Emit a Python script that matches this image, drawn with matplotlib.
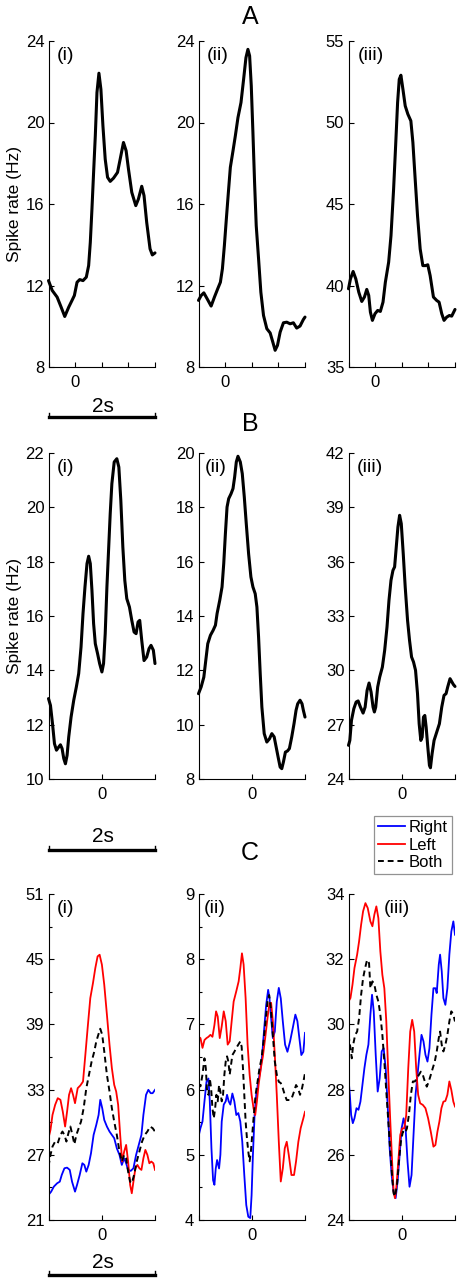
import matplotlib
matplotlib.use('Agg')
import matplotlib.pyplot as plt
from matplotlib.lines import Line2D

plt.rcParams['font.family'] = ['Liberation Sans', 'DejaVu Sans']

W, H = 458, 1280
fig = plt.figure(figsize=(W / 100, H / 100), dpi=100)
fig.patch.set_facecolor('white')

# ---------------- data (time in s, rate in Hz) ----------------
# Row A
a1_t = [-0.5, -0.431, -0.338, -0.263, -0.195, -0.12, -0.058, -0.014, 0.036, 0.086, 0.148, 0.21, 0.254,
        0.285, 0.316, 0.347, 0.379, 0.41, 0.447, 0.484, 0.522, 0.565, 0.609, 0.659, 0.721, 0.796, 0.846,
        0.908, 0.958, 1.002, 1.064, 1.139, 1.188, 1.251, 1.294, 1.344, 1.407, 1.45, 1.5]
a1_y = [12.24, 11.76, 11.43, 10.94, 10.48, 10.94, 11.27, 11.51, 12.16, 12.29, 12.24, 12.41, 12.98,
        14.12, 15.76, 17.55, 19.35, 21.47, 22.42, 21.63, 19.84, 18.20, 17.31, 17.11, 17.27, 17.55, 18.20,
        19.02, 18.61, 17.71, 16.57, 15.92, 16.24, 16.87, 16.41, 15.10, 13.80, 13.50, 13.60]

a2_t = [-0.5, -0.45, -0.4, -0.338, -0.263, -0.201, -0.139, -0.089, -0.051, -0.014, 0.023, 0.061, 0.098,
        0.148, 0.192, 0.241, 0.298, 0.347, 0.391, 0.428, 0.46, 0.491, 0.522, 0.553, 0.584, 0.628, 0.671,
        0.721, 0.783, 0.846, 0.896, 0.939, 0.983, 1.033, 1.095, 1.157, 1.22, 1.282, 1.344, 1.407, 1.469, 1.5]
a2_y = [11.27, 11.51, 11.64, 11.35, 10.99, 11.43, 11.84, 12.16, 12.82, 13.96, 15.27, 16.57, 17.80,
        18.61, 19.35, 20.24, 20.98, 22.12, 23.18, 23.59, 23.27, 21.80, 19.51, 17.06, 14.94, 13.31, 11.67,
        10.53, 9.88, 9.67, 9.22, 8.82, 9.06, 9.71, 10.17, 10.20, 10.12, 10.17, 9.91, 10.01, 10.33, 10.45]

a3_t = [-0.5, -0.463, -0.413, -0.363, -0.307, -0.251, -0.201, -0.157, -0.12, -0.089, -0.051, -0.002,
        0.048, 0.098, 0.148, 0.192, 0.254, 0.298, 0.347, 0.385, 0.422, 0.453, 0.484, 0.522, 0.565, 0.615,
        0.671, 0.709, 0.752, 0.796, 0.846, 0.896, 0.945, 0.989, 1.033, 1.095, 1.157, 1.201, 1.251, 1.294,
        1.344, 1.394, 1.438, 1.5]
a3_y = [39.80, 40.41, 40.86, 40.41, 39.59, 39.02, 39.29, 39.76, 39.39, 38.37, 37.86, 38.27,
        38.47, 38.41, 38.98, 40.20, 41.43, 43.06, 45.92, 48.57, 51.22, 52.65, 52.90, 52.04, 51.02, 50.51,
        50.10, 48.78, 46.53, 44.29, 42.24, 41.22, 41.22, 41.27, 40.61, 39.29, 39.08, 38.98, 38.27, 37.86,
        38.06, 38.16, 38.12, 38.53]

# Row B
b1_t = [-1, -0.963, -0.925, -0.888, -0.85, -0.807, -0.776, -0.745, -0.713, -0.682,
        -0.651, -0.62, -0.576, -0.526, -0.477, -0.433, -0.389, -0.352, -0.315, -0.277,
        -0.246, -0.215, -0.184, -0.153, -0.121, -0.078, -0.04, 0.003, 0.034, 0.065,
        0.097, 0.128, 0.159, 0.19, 0.234, 0.283, 0.321, 0.358, 0.396, 0.433,
        0.47, 0.52, 0.564, 0.607, 0.645, 0.682, 0.713, 0.751, 0.794, 0.844,
        0.888, 0.925, 0.969, 1.0]
b1_y = [12.96, 12.71, 12.04, 11.30, 11.06, 11.18, 11.26, 11.12, 10.75, 10.56,
        10.87, 11.55, 12.28, 12.90, 13.39, 13.88, 14.86, 16.09, 17.07, 17.93,
        18.20, 17.93, 16.94, 15.72, 14.98, 14.61, 14.25, 13.94, 14.25, 15.35,
        17.07, 18.42, 19.77, 20.87, 21.67, 21.79, 21.48, 20.26, 18.54, 17.31,
        16.64, 16.33, 15.84, 15.41, 15.35, 15.78, 15.84, 15.10, 14.36, 14.49,
        14.80, 14.92, 14.74, 14.25]

b2_t = [-1, -0.95, -0.9, -0.863, -0.826, -0.776, -0.726, -0.682, -0.651, -0.601,
        -0.558, -0.526, -0.495, -0.464, -0.433, -0.389, -0.352, -0.321, -0.29, -0.259,
        -0.215, -0.178, -0.14, -0.103, -0.059, -0.016, 0.022, 0.065, 0.097, 0.128,
        0.159, 0.19, 0.234, 0.283, 0.333, 0.377, 0.421, 0.458, 0.495, 0.533,
        0.564, 0.595, 0.632, 0.67, 0.707, 0.751, 0.794, 0.832, 0.863, 0.907,
        0.944, 0.969, 1.0]
b2_y = [11.14, 11.39, 11.75, 12.37, 12.98, 13.29, 13.47, 13.66, 14.09, 14.58,
        15.07, 15.93, 17.03, 18.01, 18.32, 18.50, 18.69, 19.12, 19.67, 19.88,
        19.67, 19.24, 18.38, 17.40, 16.29, 15.44, 15.07, 14.82, 14.33, 13.23,
        11.88, 10.65, 9.67, 9.36, 9.48, 9.67, 9.55, 9.18, 8.81, 8.44,
        8.38, 8.63, 8.99, 9.03, 9.12, 9.55, 10.04, 10.53, 10.77, 10.90,
        10.77, 10.53, 10.28]

b3_t = [-1, -0.975, -0.944, -0.9, -0.857, -0.819, -0.776, -0.726, -0.688, -0.651,
        -0.614, -0.576, -0.539, -0.514, -0.489, -0.452, -0.414, -0.364, -0.321, -0.277,
        -0.24, -0.202, -0.165, -0.134, -0.103, -0.072, -0.04, -0.009, 0.028, 0.065,
        0.109, 0.146, 0.184, 0.221, 0.259, 0.296, 0.327, 0.358, 0.383, 0.408,
        0.433, 0.458, 0.489, 0.52, 0.539, 0.57, 0.607, 0.657, 0.707, 0.751,
        0.794, 0.832, 0.863, 0.907, 0.944, 0.969, 1.0]
b3_y = [25.86, 26.13, 27.24, 27.88, 28.25, 28.31, 27.97, 27.64, 27.97, 28.89,
        29.30, 28.80, 27.97, 27.70, 27.97, 29.08, 29.63, 30.18, 31.10, 32.39,
        33.86, 34.97, 35.52, 35.71, 36.81, 37.91, 38.56, 38.10, 36.44, 34.60,
        32.76, 31.66, 30.74, 30.46, 30.00, 28.71, 27.05, 26.13, 26.31, 27.42,
        27.51, 26.87, 25.77, 24.75, 24.62, 25.40, 26.13, 26.59, 27.05, 27.97,
        28.62, 28.71, 29.08, 29.54, 29.35, 29.22, 29.11]

# Row C (i)
c1_left_t = [-1, -0.963, -0.925, -0.875, -0.826, -0.776, -0.732, -0.688, -0.651, -0.614,
             -0.576, -0.539, -0.502, -0.452, -0.402, -0.352, -0.308, -0.265, -0.215, -0.165,
             -0.121, -0.078, -0.04, 0.003, 0.047, 0.097, 0.146, 0.19, 0.234, 0.271,
             0.308, 0.346, 0.383, 0.421, 0.458, 0.495, 0.533, 0.564, 0.595, 0.632,
             0.67, 0.707, 0.745, 0.782, 0.819, 0.857, 0.894, 0.931, 0.969, 1.0]
c1_left_y = [28.53, 29.29, 30.67, 31.60, 32.21, 32.06, 30.98, 29.60, 30.98, 32.52,
             33.13, 32.52, 31.75, 33.13, 33.38, 33.74, 36.20, 38.66, 41.42, 42.80,
             44.18, 45.26, 45.41, 44.49, 42.65, 39.89, 37.12, 34.97, 33.44, 32.82,
             31.60, 28.83, 26.38, 27.30, 27.91, 26.38, 24.23, 23.46, 24.53, 25.76,
             26.07, 25.76, 25.61, 26.68, 27.45, 26.99, 26.22, 26.38, 26.22, 25.61]
c1_right_t = [-1, -0.95, -0.9, -0.838, -0.788, -0.751, -0.701, -0.651, -0.601, -0.558,
              -0.502, -0.464, -0.414, -0.364, -0.327, -0.29, -0.246, -0.202, -0.153, -0.103,
              -0.059, -0.028, 0.009, 0.047, 0.097, 0.146, 0.19, 0.234, 0.283, 0.333,
              0.377, 0.421, 0.458, 0.495, 0.545, 0.595, 0.645, 0.695, 0.745, 0.782,
              0.832, 0.875, 0.919, 0.956, 1.0]
c1_right_y = [23.31, 23.61, 24.07, 24.38, 24.53, 25.15, 25.76, 25.82, 25.61, 24.53,
              23.61, 24.23, 25.15, 26.22, 26.07, 25.45, 26.07, 27.14, 28.83, 29.75,
              30.67, 32.06, 31.29, 30.21, 29.60, 29.14, 28.83, 28.53, 27.60, 26.99,
              26.07, 26.68, 26.22, 25.61, 25.52, 25.76, 26.99, 27.91, 28.83, 30.67,
              32.52, 32.98, 32.67, 32.67, 32.98]
c1_both_t = [-1, -0.963, -0.925, -0.875, -0.826, -0.776, -0.738, -0.701, -0.664, -0.626,
             -0.589, -0.551, -0.514, -0.477, -0.433, -0.389, -0.34, -0.29, -0.24, -0.19,
             -0.14, -0.103, -0.065, -0.028, 0.009, 0.047, 0.097, 0.146, 0.19, 0.234,
             0.283, 0.333, 0.377, 0.421, 0.458, 0.495, 0.533, 0.564, 0.607, 0.657,
             0.707, 0.757, 0.807, 0.857, 0.907, 0.956, 1.0]
c1_both_y = [25.92, 26.99, 27.76, 28.22, 28.07, 28.83, 29.14, 28.83, 28.22, 28.99,
             29.60, 28.83, 27.97, 28.83, 29.45, 30.06, 31.29, 33.13, 34.36, 35.59,
             36.51, 37.43, 38.04, 38.60, 38.04, 36.51, 34.36, 32.82, 31.29, 30.06,
             28.83, 27.30, 26.38, 26.99, 26.68, 25.45, 24.53, 24.38, 25.15, 26.38,
             27.30, 28.22, 28.83, 29.14, 29.60, 29.45, 29.14]

# Row C (ii)
c2_left_t = [-1, -0.963, -0.925, -0.888, -0.85, -0.813, -0.776, -0.738, -0.701, -0.67,
             -0.639, -0.601, -0.564, -0.526, -0.489, -0.452, -0.414, -0.377, -0.34, -0.29,
             -0.246, -0.215, -0.184, -0.153, -0.115, -0.078, -0.04, -0.003, 0.034, 0.065,
             0.097, 0.128, 0.171, 0.209, 0.252, 0.296, 0.333, 0.364, 0.396, 0.433,
             0.47, 0.508, 0.545, 0.583, 0.62, 0.657, 0.695, 0.745, 0.794, 0.832,
             0.875, 0.919, 0.969, 1.0]
c2_left_y = [6.81, 6.79, 6.64, 6.76, 6.79, 6.81, 6.84, 6.81, 6.99, 7.20,
             7.12, 6.79, 6.97, 7.20, 7.05, 6.69, 6.74, 7.05, 7.35, 7.51,
             7.66, 7.86, 8.09, 7.92, 7.40, 6.69, 6.23, 5.92, 5.71, 5.61,
             5.82, 6.07, 6.33, 6.51, 6.79, 7.10, 7.33, 7.33, 7.05, 6.53,
             5.92, 5.20, 4.59, 4.79, 5.10, 5.20, 5.00, 4.69, 4.69, 4.90,
             5.20, 5.41, 5.56, 5.66]
c2_right_t = [-1, -0.963, -0.925, -0.888, -0.85, -0.813, -0.788, -0.757, -0.726, -0.701,
              -0.676, -0.651, -0.614, -0.589, -0.564, -0.526, -0.489, -0.464, -0.433, -0.402,
              -0.364, -0.327, -0.29, -0.252, -0.215, -0.178, -0.14, -0.103, -0.065, -0.028,
              -0.003, 0.022, 0.053, 0.084, 0.122, 0.159, 0.196, 0.234, 0.271, 0.308,
              0.333, 0.358, 0.396, 0.433, 0.47, 0.508, 0.545, 0.583, 0.626, 0.67,
              0.72, 0.769, 0.819, 0.857, 0.894, 0.931, 0.969, 1.0]
c2_right_y = [5.28, 5.41, 5.51, 5.82, 6.12, 6.17, 5.82, 5.10, 4.61, 4.54,
              4.79, 4.92, 4.79, 5.00, 5.51, 5.77, 5.82, 5.92, 5.82, 5.77,
              5.94, 5.82, 5.61, 5.64, 5.51, 5.20, 4.69, 4.23, 4.05, 4.03,
              4.38, 5.00, 5.61, 5.92, 6.12, 6.28, 6.53, 6.94, 7.30, 7.53,
              7.40, 7.15, 6.79, 6.89, 7.35, 7.56, 7.40, 7.05, 6.69, 6.58,
              6.74, 6.94, 7.15, 7.05, 6.79, 6.53, 6.58, 6.87]
c2_both_t = [-1, -0.963, -0.925, -0.888, -0.863, -0.838, -0.813, -0.788, -0.763, -0.738,
             -0.713, -0.688, -0.664, -0.639, -0.614, -0.589, -0.564, -0.539, -0.514, -0.489,
             -0.464, -0.439, -0.414, -0.389, -0.364, -0.327, -0.29, -0.252, -0.215, -0.19,
             -0.165, -0.14, -0.115, -0.09, -0.065, -0.04, -0.016, 0.009, 0.034, 0.072,
             0.109, 0.146, 0.184, 0.221, 0.259, 0.296, 0.327, 0.358, 0.396, 0.433,
             0.47, 0.508, 0.545, 0.583, 0.62, 0.657, 0.707, 0.751, 0.794, 0.832,
             0.869, 0.907, 0.944, 0.969, 1.0]
c2_both_y = [6.10, 6.05, 6.23, 6.48, 6.33, 5.97, 5.92, 6.17, 6.02, 5.71,
             5.56, 5.71, 5.92, 5.82, 6.07, 5.97, 5.82, 5.92, 6.23, 6.43,
             6.51, 6.43, 6.23, 6.38, 6.53, 6.58, 6.64, 6.69, 6.74, 6.66,
             6.33, 5.92, 5.51, 5.25, 5.05, 4.90, 5.05, 5.31, 5.56, 5.92,
             6.12, 6.33, 6.48, 6.74, 7.05, 7.35, 7.45, 7.25, 6.84, 6.43,
             6.23, 6.12, 6.10, 6.02, 5.92, 5.84, 5.84, 5.87, 5.97, 6.07,
             6.02, 5.92, 6.02, 6.12, 6.25]

# Row C (iii)
c3_left_t = [-1, -0.963, -0.925, -0.888, -0.838, -0.801, -0.763, -0.726, -0.682, -0.639,
             -0.589, -0.551, -0.514, -0.477, -0.439, -0.402, -0.364, -0.327, -0.29, -0.252,
             -0.215, -0.178, -0.153, -0.128, -0.103, -0.065, -0.028, 0.009, 0.047, 0.084,
             0.122, 0.159, 0.196, 0.234, 0.271, 0.308, 0.346, 0.396, 0.445, 0.495,
             0.545, 0.595, 0.632, 0.67, 0.707, 0.745, 0.782, 0.819, 0.857, 0.894,
             0.931, 0.969, 1.0]
c3_left_y = [30.70, 30.81, 31.22, 31.73, 32.14, 32.55, 33.06, 33.47, 33.72, 33.57,
             33.16, 33.01, 33.37, 33.62, 33.26, 32.24, 31.52, 31.11, 30.09, 28.45,
             27.02, 25.69, 24.87, 24.67, 24.97, 25.79, 26.61, 26.81, 26.81, 27.22,
             28.65, 29.78, 30.14, 29.78, 28.65, 27.84, 27.58, 27.53, 27.43, 27.12,
             26.71, 26.25, 26.30, 26.71, 27.02, 27.43, 27.63, 27.65, 27.84, 28.25,
             27.99, 27.63, 27.48]
c3_right_t = [-1, -0.975, -0.95, -0.919, -0.888, -0.85, -0.813, -0.776, -0.738, -0.701,
              -0.664, -0.626, -0.589, -0.558, -0.526, -0.489, -0.452, -0.414, -0.377, -0.34,
              -0.302, -0.265, -0.227, -0.19, -0.153, -0.115, -0.078, -0.04, -0.003, 0.034,
              0.072, 0.109, 0.146, 0.184, 0.221, 0.259, 0.296, 0.333, 0.371, 0.408,
              0.445, 0.483, 0.52, 0.558, 0.595, 0.632, 0.657, 0.695, 0.72, 0.751,
              0.782, 0.819, 0.857, 0.894, 0.931, 0.969, 1.0]
c3_right_y = [28.35, 27.84, 27.22, 26.97, 27.12, 27.43, 27.38, 27.63, 28.15, 28.66,
              29.07, 29.38, 30.30, 30.91, 30.40, 29.07, 27.94, 28.35, 29.17, 29.27,
              28.66, 27.53, 26.20, 25.38, 24.87, 24.67, 25.18, 25.99, 26.81, 27.12,
              26.81, 25.79, 25.02, 25.38, 26.61, 27.84, 28.45, 29.07, 29.68, 29.48,
              29.07, 28.86, 29.27, 30.30, 31.11, 31.11, 30.96, 31.83, 32.14, 31.63,
              30.81, 30.60, 31.11, 32.14, 32.85, 33.16, 32.75]
c3_both_t = [-1, -0.963, -0.938, -0.913, -0.875, -0.838, -0.801, -0.763, -0.726, -0.688,
             -0.651, -0.614, -0.589, -0.551, -0.514, -0.477, -0.439, -0.402, -0.364, -0.327,
             -0.29, -0.252, -0.215, -0.178, -0.153, -0.128, -0.09, -0.053, -0.016, 0.022,
             0.059, 0.097, 0.134, 0.171, 0.209, 0.246, 0.283, 0.321, 0.358, 0.396,
             0.433, 0.47, 0.508, 0.545, 0.583, 0.62, 0.657, 0.695, 0.72, 0.751,
             0.782, 0.819, 0.857, 0.894, 0.931, 0.969, 1.0]
c3_both_y = [29.68, 29.27, 28.96, 29.37, 29.68, 29.78, 30.19, 30.91, 31.42, 31.73,
             31.98, 31.88, 31.11, 31.32, 31.22, 30.91, 30.70, 30.30, 29.68, 28.86,
             27.94, 27.02, 26.10, 25.28, 24.82, 24.72, 25.07, 25.79, 26.41, 26.71,
             26.66, 26.81, 27.22, 27.84, 28.25, 28.25, 28.35, 28.45, 28.55, 28.45,
             28.25, 28.09, 28.25, 28.45, 28.66, 28.86, 29.17, 29.58, 29.78, 29.37,
             29.17, 29.37, 29.68, 30.09, 30.40, 30.30, 30.09]

panel_tags = ['(i)', '(ii)', '(iii)']
a_yticks = [[8, 12, 16, 20, 24], [8, 12, 16, 20, 24], [35, 40, 45, 50, 55]]
b_yticks = [[10, 12, 14, 16, 18, 20, 22], [8, 10, 12, 14, 16, 18, 20], [24, 27, 30, 33, 36, 39, 42]]
c_yticks = [[21, 27, 33, 39, 45, 51], [4, 5, 6, 7, 8, 9], [24, 26, 28, 30, 32, 34]]
c_minor = [3, 0.5, None]

# ---------------- layout (pixels) ----------------
col_left = [48.5, 198.5, 348.5]
ax_w = 106.5
row_top = [41, 453, 894]
ax_h = 326


def make_ax(col, row):
    l = col_left[col] / W
    b = 1 - (row_top[row] + ax_h) / H
    ax = fig.add_axes([l, b, ax_w / W, ax_h / H])
    for s in ['top', 'right']:
        ax.spines[s].set_visible(False)
    for s in ['left', 'bottom']:
        ax.spines[s].set_linewidth(0.8)
    ax.tick_params(direction='in', length=3.5, width=0.8, labelsize=12, pad=3)
    ax.tick_params(axis='x', pad=6)
    ax.tick_params(which='minor', direction='in', length=2.5, width=0.8)
    return ax


def fig_text(x, y, s, **kw):
    fig.text(x / W, 1 - y / H, s, **kw)


lw_big = 2.2
rows_ab = [([(a1_t, a1_y), (a2_t, a2_y), (a3_t, a3_y)], a_yticks, (-0.5, 1.5), [-0.5, 0, 0.5, 1, 1.5]),
           ([(b1_t, b1_y), (b2_t, b2_y), (b3_t, b3_y)], b_yticks, (-1, 1), [-1, 0, 1])]
tag_x = [[0.08, 0.075, 0.085], [0.08, 0.056, 0.075]]

for r, (series, yt, xl, xt) in enumerate(rows_ab):
    for c in range(3):
        ax = make_ax(c, r)
        t, y = series[c]
        ax.plot(t, y, color='black', lw=lw_big, solid_capstyle='round', clip_on=False)
        ax.set_xlim(*xl)
        ax.set_ylim(yt[c][0], yt[c][-1])
        ax.set_yticks(yt[c])
        ax.set_xticks(xt)
        ax.set_xticklabels(['0' if v == 0 else '' for v in xt])
        ax.text(tag_x[r][c], 0.955, panel_tags[c], transform=ax.transAxes,
                ha='left', va='center', fontsize=14)
        if c == 0:
            ax.set_ylabel('Spike rate (Hz)', fontsize=12.5)
            ax.yaxis.set_label_coords(-0.25, 0.5)

c_series = [
    [(c1_right_t, c1_right_y), (c1_left_t, c1_left_y), (c1_both_t, c1_both_y)],
    [(c2_right_t, c2_right_y), (c2_left_t, c2_left_y), (c2_both_t, c2_both_y)],
    [(c3_right_t, c3_right_y), (c3_left_t, c3_left_y), (c3_both_t, c3_both_y)],
]
c_tag_x = [0.08, 0.045, 0.33]
for c in range(3):
    ax = make_ax(c, 2)
    (rt, ry), (lt, ly), (bt, by) = c_series[c]
    ax.plot(rt, ry, color='#0000ff', lw=1.3)
    ax.plot(lt, ly, color='#ff0000', lw=1.3)
    ax.plot(bt, by, color='black', lw=1.4, ls=(0, (3, 2)))
    ax.set_xlim(-1, 1)
    ax.set_ylim(c_yticks[c][0], c_yticks[c][-1])
    ax.set_yticks(c_yticks[c])
    if c_minor[c]:
        ax.yaxis.set_minor_locator(matplotlib.ticker.MultipleLocator(c_minor[c]))
    ax.set_xticks([-1, 0, 1])
    ax.set_xticklabels(['', '0', ''])
    ax.text(c_tag_x[c], 0.957, panel_tags[c], transform=ax.transAxes,
            ha='left', va='center', fontsize=14)

# section letters
fig_text(250, 17, 'A', ha='center', va='center', fontsize=18)
fig_text(250, 424, 'B', ha='center', va='center', fontsize=18)
fig_text(250, 853, 'C', ha='center', va='center', fontsize=18)

# 2 s scale bars
for text_y, bar_y in [(406, 417), (836, 850), (1263, 1275)]:
    fig_text(103, text_y, '2s', ha='center', va='center', fontsize=15)
    xs = [49 / W, 49 / W, 155 / W, 155 / W]
    ys = [1 - (bar_y - 4) / H, 1 - bar_y / H, 1 - bar_y / H, 1 - (bar_y - 4) / H]
    fig.add_artist(Line2D(xs, ys, color='black', lw=1.0))
    fig.add_artist(Line2D([49 / W, 155 / W], [1 - bar_y / H] * 2, color='black', lw=2.4))

# legend
handles = [Line2D([], [], color='#0000ff', lw=1.3),
           Line2D([], [], color='#ff0000', lw=1.3),
           Line2D([], [], color='black', lw=1.4, ls=(0, (3, 2)))]
leg = fig.legend(handles, ['Right', 'Left', 'Both'], loc='upper right',
                 bbox_to_anchor=(452 / W, 1 - 816 / H), fontsize=12,
                 frameon=True, fancybox=False, handlelength=1.6, handletextpad=0.25,
                 labelspacing=0.15, borderpad=0.25, borderaxespad=0)
leg.get_frame().set_edgecolor('#777777')
leg.get_frame().set_linewidth(0.9)

fig.savefig('out.png', dpi=100, facecolor='white')
